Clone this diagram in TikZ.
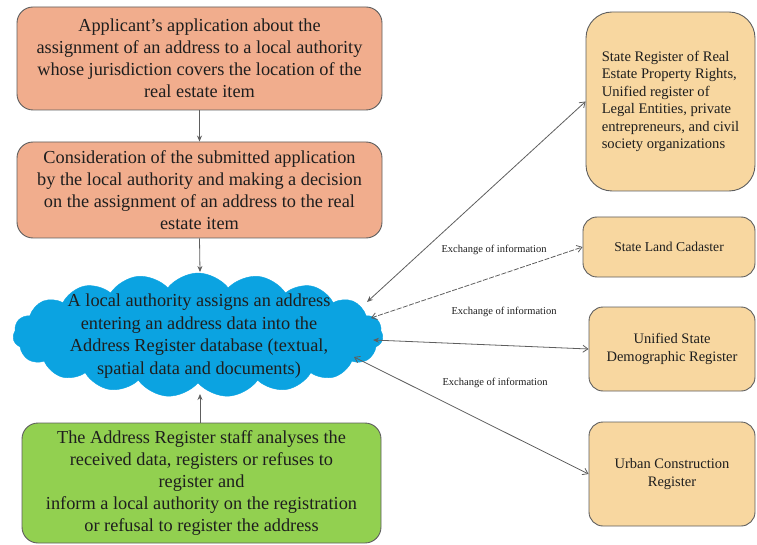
\documentclass[tikz,border=0pt]{standalone}
\usepackage{fontspec}
\setmainfont{Liberation Serif}
\usetikzlibrary{shapes.symbols,arrows.meta}

\definecolor{salmon}{HTML}{F1AD8D}
\definecolor{skyblue}{HTML}{0BA3E1}
\definecolor{leaf}{HTML}{92D050}
\definecolor{sand}{HTML}{F8D7A0}
\definecolor{edgegray}{HTML}{5E5E5E}
\definecolor{inkgray}{HTML}{1E1E1E}

\tikzset{
  flowbox/.style={draw=edgegray, line width=0.9pt, rounded corners=16pt,
    align=center, text=inkgray, inner sep=2pt,
    font=\fontsize{18.3}{22}\selectfont},
  regbox/.style={draw=edgegray, line width=0.9pt, fill=sand, rounded corners=14pt,
    align=center, text=inkgray, inner sep=2pt,
    font=\fontsize{14.5}{18}\selectfont},
  flowarrow/.style={draw=edgegray, line width=0.8pt,
    -{Stealth[length=6pt,width=5pt]}},
  swaparrow/.style={draw=edgegray, line width=0.8pt,
    {Straight Barb[length=5pt,width=7pt]}-{Straight Barb[length=5pt,width=7pt]}},
  solidtip/.style={draw=edgegray, line width=0.8pt,
    {Stealth[length=6pt,width=5pt]}-{Straight Barb[length=5pt,width=7pt]}},
  xlabel/.style={text=inkgray, font=\fontsize{10.5}{12}\selectfont, inner sep=1pt}
}

\begin{document}
\begin{tikzpicture}[x=1pt,y=-1pt]
\useasboundingbox (0,0) rectangle (757,545);

% left column: application workflow
\node[flowbox, fill=salmon, minimum width=365pt, minimum height=103pt]
  (apply) at (199.5,58.5)
  {Applicant's application about the\\
   assignment of an address to a local authority\\
   whose jurisdiction covers the location of the\\
   real estate item};

\node[flowbox, fill=salmon, minimum width=365pt, minimum height=96pt]
  (decide) at (199.5,190)
  {Consideration of the submitted application\\
   by the local authority and making a decision\\
   on the assignment of an address to the real\\
   estate item};

\node[cloud, cloud puffs=19, cloud puff arc=105, fill=skyblue, draw=skyblue,
  minimum width=370pt, minimum height=124pt, inner sep=0pt]
  (cloud) at (198,335) {};
\node[align=center, text=inkgray, font=\fontsize{18.3}{22.5}\selectfont]
  (cloudtext) at (199,336)
  {A local authority assigns an address\\
   entering an address data into the\\
   Address Register database (textual,\\
   spatial data and documents)};

\node[flowbox, fill=leaf, minimum width=359pt, minimum height=120pt]
  (staff) at (201.5,483)
  {The Address Register staff analyses the\\
   received data, registers or refuses to\\
   register and\\
   inform a local authority on the registration\\
   or refusal to register the address};

% right column: state registers
\node[regbox, rounded corners=26pt, minimum width=169pt, minimum height=179pt,
  align=left, font=\fontsize{14.6}{17.5}\selectfont]
  (rights) at (670.5,101.5)
  {State Register of Real\\
   Estate Property Rights,\\
   Unified register of\\
   Legal Entities, private\\
   entrepreneurs, and civil\\
   society organizations};

\node[regbox, minimum width=172pt, minimum height=60pt,
  font=\fontsize{13.6}{18}\selectfont]
  (land) at (669,247) {State Land Cadaster};

\node[regbox, minimum width=166pt, minimum height=84pt]
  (demo) at (672,349) {Unified State\\ Demographic Register};

\node[regbox, minimum width=166pt, minimum height=104pt]
  (urban) at (672,474) {Urban Construction\\ Register};

% points on the cloud edge where the exchange links meet it
\coordinate (cA) at (367,302);
\coordinate (cB) at (371,318);
\coordinate (cC) at (373,340);
\coordinate (cD) at (354,357);

% workflow arrows
\draw[flowarrow] (apply.south) -- (decide.north);
\draw[flowarrow] (decide.south) -- (200,272);
\draw[flowarrow] (staff.north -| 200,0) -- (200,394);

% information exchange links
\draw[solidtip] (cA) -- (rights.west);
\draw[swaparrow, dash pattern=on 5pt off 1.5pt] (cB) -- (land.west);
\draw[solidtip] (cC) -- (demo.west);
\draw[swaparrow] (cD) -- (urban.west);

\node[xlabel] (lab1) at (494,250) {Exchange of information};
\node[xlabel] (lab2) at (504,312) {Exchange of information};
\node[xlabel] (lab3) at (495,383) {Exchange of information};
\end{tikzpicture}
\end{document}
